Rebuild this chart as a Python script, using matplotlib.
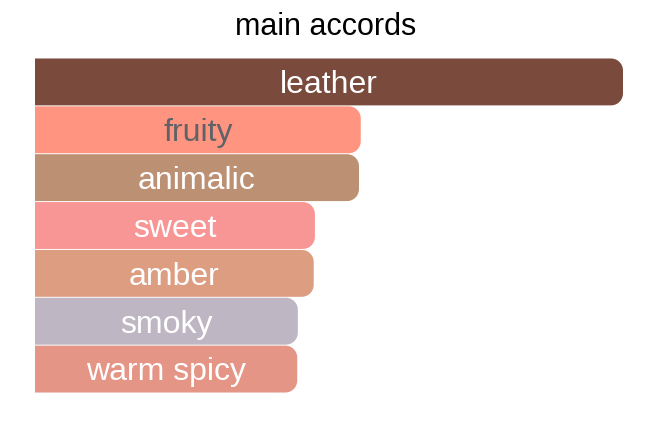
import matplotlib
matplotlib.use("Agg")
import matplotlib.pyplot as plt
import numpy as np
from matplotlib.patches import PathPatch
from matplotlib.path import Path

# data
ACCORDS = ["leather", "fruity", "animalic", "sweet", "amber", "smoky", "warm spicy"]
STRENGTH = [100, 55.4, 55.1, 47.6, 47.4, 44.7, 44.6]
COLORS = ["#7a4a3c", "#ff9580", "#bc9073", "#f89595", "#dc9d81", "#beb6c2", "#e49585"]
TEXT_COLORS = ["white", "#5f6368", "white", "white", "white", "white", "white"]

plt.rcParams["font.family"] = ["Liberation Sans", "DejaVu Sans"]

W, H = 651, 422
fig = plt.figure(figsize=(W / 100, H / 100), dpi=100)
ax = fig.add_axes([35 / W, (H - 393) / H, 588 / W, 335 / H])
ax.set_xlim(0, 100)
ax.set_ylim(len(ACCORDS) - 0.5, -0.5)
ax.axis("off")

bars = ax.barh(range(len(ACCORDS)), STRENGTH, height=0.98, color=COLORS)

RX = 12 / 5.88   # corner radius, x data units (~12 px)
RY = 12 / 47.9   # corner radius, y data units (~12 px)


def right_rounded(x0, y0, w, h):
    t = np.linspace(0, np.pi / 2, 12)
    x1, y1 = x0 + w, y0 + h
    pts = [(x0, y0), (x1 - RX, y0)]
    pts += [(x1 - RX + RX * np.sin(a), y0 + RY - RY * np.cos(a)) for a in t]
    pts += [(x1 - RX + RX * np.cos(a), y1 - RY + RY * np.sin(a)) for a in t]
    pts += [(x0, y1), (x0, y0)]
    return Path(pts, closed=True)


for bar, c, tc, name in zip(bars, COLORS, TEXT_COLORS, ACCORDS):
    x0, y0, w, h = bar.get_x(), bar.get_y(), bar.get_width(), bar.get_height()
    bar.set_visible(False)
    ax.add_patch(PathPatch(right_rounded(x0, y0, w, h), fc=c, ec="none"))
    ax.text(x0 + w / 2, y0 + h / 2 + 0.07, name, ha="center", va="center",
            color=tc, fontsize=23)

fig.text(0.5, 1 - 27 / H, "main accords", ha="center", va="center",
         fontsize=22, color="black")

fig.savefig("out.png", dpi=100)
